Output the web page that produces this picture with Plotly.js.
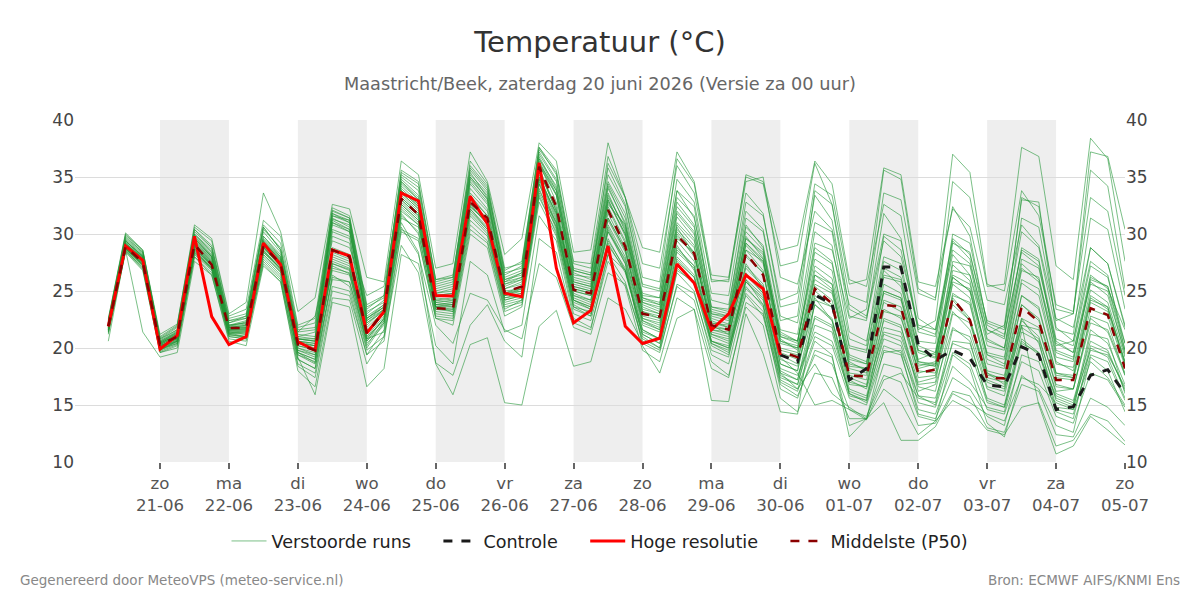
<!DOCTYPE html>
<html><head><meta charset="utf-8">
<script src="https://cdn.plot.ly/plotly-3.0.1.min.js"></script>
<style>html,body{margin:0;padding:0;background:#fff}#chart{width:1200px;height:600px}</style>
</head><body><div id="chart"></div>
<script>
// ---- time base: 6-hourly steps starting 20-06-2026 06:00 ----
const startUTC = Date.UTC(2026, 5, 20, 6, 0);
const stepHours = 6;
const nSteps = 60;

const dayTicks = ['2026-06-21','2026-06-22','2026-06-23','2026-06-24','2026-06-25','2026-06-26','2026-06-27','2026-06-28','2026-06-29','2026-06-30','2026-07-01','2026-07-02','2026-07-03','2026-07-04','2026-07-05'];
const dayLabels = ['zo<br>21-06','ma<br>22-06','di<br>23-06','wo<br>24-06','do<br>25-06','vr<br>26-06','za<br>27-06','zo<br>28-06','ma<br>29-06','di<br>30-06','wo<br>01-07','do<br>02-07','vr<br>03-07','za<br>04-07','zo<br>05-07'];
const shadedStart = ['2026-06-21','2026-06-23','2026-06-25','2026-06-27','2026-06-29','2026-07-01','2026-07-03'];
const shadedEnd   = ['2026-06-22','2026-06-24','2026-06-26','2026-06-28','2026-06-30','2026-07-02','2026-07-04'];

// ---- perturbed members (Verstoorde runs) ----
const m01 = [22.0,29.2,28.0, 20.5,21.3,29.8,28.2, 21.9,22.3,29.6,28.0, 20.8,20.6,31.4,30.6, 22.4,23.6,34.2,32.8, 24.6,24.8,34.8,33.1, 25.6,26.0,36.4,33.5, 25.8,25.4,33.6,30.2, 23.8,23.2,31.5,29.6, 22.6,22.1,29.8,27.9, 20.6,20.0,27.2,26.1, 19.2,18.6,26.8,25.4, 19.6,19.1,27.3,25.9, 19.0,18.4,25.7,24.6, 18.6,18.3,25.1,24.0, 19.2];
const m02 = [21.4,28.7,27.4, 19.8,20.6,28.6,27.0, 21.2,21.0,28.2,26.6, 19.6,18.7,27.2,26.5, 20.4,22.0,31.6,30.2, 22.8,22.6,30.8,29.4, 23.4,24.2,33.8,31.0, 23.6,23.2,29.0,26.8, 21.2,20.4,27.0,25.6, 20.2,19.4,25.2,23.8, 17.4,16.8,22.6,21.8, 16.0,15.4,21.2,20.6, 15.8,15.6,20.4,19.8, 15.2,14.8,20.8,19.6, 14.6,14.2,19.4,18.8, 15.4];
const m03 = [22.6,30.1,28.6, 21.2,22.1,30.6,29.4, 22.8,23.4,31.2,29.8, 22.0,22.6,32.3,31.6, 23.8,24.6,35.2,34.1, 26.0,26.4,35.6,33.8, 26.8,27.6,37.6,35.2, 27.4,27.0,35.8,32.6, 25.6,25.2,34.8,32.8, 24.8,24.6,33.6,31.8, 23.6,24.0,33.4,31.2, 22.8,22.4,31.8,29.6, 21.4,21.0,28.2,26.4, 20.2,19.8,27.0,25.8, 19.6,19.0,26.2,25.4, 20.4];
const m04 = [21.8,28.9,27.6, 20.2,20.8,29.0,27.4, 21.6,21.6,28.8,27.3, 20.2,19.9,28.4,27.8, 21.0,22.8,33.0,31.6, 23.8,23.6,32.6,31.0, 24.6,25.0,35.2,31.6, 24.8,24.2,31.4,28.6, 22.6,22.2,29.4,27.6, 21.4,21.0,27.2,25.6, 19.0,18.4,23.8,22.6, 16.8,16.6,22.4,21.8, 17.0,17.4,23.2,21.6, 16.6,16.2,21.8,20.8, 16.2,16.4,22.6,21.4, 17.6];
const m05 = [22.2,29.5,28.2, 20.6,21.5,30.0,28.6, 22.2,22.8,30.4,28.8, 21.4,21.6,31.8,31.0, 23.0,24.2,34.8,33.4, 25.2,25.6,35.2,33.6, 26.2,26.8,37.0,34.6, 26.6,26.0,34.2,30.8, 24.0,23.4,30.6,28.2, 22.0,21.2,27.4,25.2, 19.4,18.6,26.4,25.6, 18.8,18.0,24.8,24.2, 18.4,18.8,26.2,25.0, 18.6,18.2,24.6,23.4, 17.8,17.4,24.2,23.6, 18.8];
const m06 = [21.2,28.4,26.8, 19.6,20.2,28.0,26.4, 20.8,20.6,27.6,26.0, 19.0,18.2,26.4,25.4, 19.8,21.0,29.0,26.6, 18.6,15.9,20.3,20.9, 15.2,15.0,21.9,23.3, 18.4,18.8,24.4,23.4, 20.4,19.6,25.6,24.8, 19.8,19.2,26.0,24.6, 17.8,17.2,23.8,22.4, 16.4,15.8,21.8,21.4, 16.6,16.2,23.0,22.2, 17.0,16.4,22.4,21.0, 16.0,15.4,20.6,19.8, 16.2];
const m07 = [21.6,28.8,27.2, 20.0,20.6,28.4,27.0, 21.4,21.2,28.4,27.0, 19.8,19.4,27.6,27.0, 20.8,21.4,31.0,28.4, 18.7,17.6,22.0,23.8, 20.6,19.2,29.6,28.4, 22.2,21.6,28.2,26.8, 21.4,20.8,28.6,27.2, 20.6,20.2,25.8,24.2, 18.2,17.6,21.4,20.6, 16.2,15.6,20.8,20.2, 15.2,14.8,19.6,18.6, 14.6,14.2,18.8,18.0, 14.0,13.4,17.8,17.2, 14.8];
const m08 = [22.4,29.8,28.4, 20.8,21.8,30.4,28.8, 22.6,23.0,30.8,29.2, 21.8,22.2,32.1,31.4, 23.4,24.6,35.4,34.4, 25.8,26.2,36.0,34.2, 26.4,27.2,37.4,35.4, 27.0,26.6,34.6,31.8, 24.8,24.4,33.2,31.6, 23.6,23.2,31.4,30.2, 22.4,22.8,33.8,32.6, 24.6,24.0,35.6,34.8, 25.2,24.4,32.4,29.8, 22.0,21.2,28.4,27.2, 20.4,19.6,25.8,24.6, 19.6];
const m09 = [22.0,29.4,28.0, 20.4,21.2,29.6,28.0, 21.8,22.0,29.2,27.8, 20.6,20.4,31.2,30.4, 22.8,23.8,34.0,32.6, 24.8,25.0,34.6,32.8, 25.8,26.6,36.8,34.0, 26.2,25.8,33.4,30.4, 23.6,23.0,31.0,29.4, 23.0,22.8,30.6,29.0, 21.6,21.2,30.2,29.0, 20.8,20.2,29.8,28.6, 21.6,22.4,34.6,33.2, 25.4,25.6,37.6,36.8, 27.2,26.0,38.4,36.6, 27.6];
const m10 = [22.3,29.6,28.3, 20.7,21.6,30.2,28.8, 22.4,22.6,30.6,28.6, 21.2,21.0,31.6,31.2, 22.6,23.6,34.6,33.0, 25.0,25.4,35.0,33.4, 26.0,26.4,36.6,34.2, 26.4,26.2,36.2,33.2, 26.2,25.8,36.6,34.4, 25.8,26.0,35.2,34.6, 28.6,29.0,36.4,34.4, 26.0,25.4,32.6,31.6, 22.6,21.6,29.6,28.2, 22.4,21.8,30.2,28.8, 21.6,21.2,31.4,30.4, 23.4];
const m11 = [21.6,28.8,27.3, 20.0,20.7,28.8,27.2, 21.3,21.4,28.6,27.0, 20.0,19.4,26.8,26.4, 20.2,22.4,32.4,31.0, 23.4,23.4,32.2,30.6, 24.2,24.6,34.6,30.8, 24.2,23.6,30.6,27.6, 22.0,21.4,28.0,26.4, 20.6,20.0,24.6,22.8, 16.8,15.8,19.4,18.6, 14.6,14.0,17.6,17.0, 13.2,13.4,16.2,15.8, 13.0,12.6,16.8,16.2, 12.4,12.2,15.6,14.8, 13.2];
const m12 = [21.5,28.6,27.0, 19.9,20.4,28.2,26.8, 21.0,20.8,27.8,26.2, 18.6,17.8,25.4,25.0, 19.4,20.6,30.2,29.4, 22.6,22.0,30.0,28.8, 22.8,23.6,32.8,29.8, 23.0,22.4,28.2,25.8, 20.6,19.8,25.4,24.2, 18.8,17.6,23.6,22.0, 15.6,14.4,17.8,17.4, 13.8,13.8,16.4,15.2, 12.4,13.6,15.4,14.6, 12.8,12.4,14.8,15.2, 11.4,11.9,14.2,13.6, 11.8];
const m13 = [21.9,29.0,27.8, 20.3,21.0,29.1,27.6, 21.7,21.8,29.0,27.4, 20.4,20.0,29.8,29.2, 21.8,23.2,33.4,32.0, 24.2,24.0,33.0,31.2, 25.0,25.2,35.6,32.0, 25.0,24.6,31.8,28.8, 22.8,22.4,29.0,26.8, 21.0,20.4,26.0,23.8, 17.8,16.4,18.6,16.0, 14.8,13.8,15.2,11.9, 11.9,13.1,16.0,15.2, 14.2,13.6,17.4,16.8, 15.2,14.6,18.8,17.4, 15.0];
const m14 = [22.1,29.2,27.6, 20.4,21.2,29.4,27.8, 21.8,21.9,29.4,27.6, 20.6,20.2,30.2,29.6, 22.0,23.4,33.8,32.4, 24.4,24.2,33.4,31.6, 25.2,25.6,35.4,32.4, 25.2,24.8,32.4,29.4, 23.2,22.8,30.4,28.8, 22.4,21.8,28.6,26.8, 19.2,17.8,15.0,15.4, 14.6,13.7,17.2,17.8, 15.6,15.2,21.6,21.0, 16.4,15.8,22.0,21.6, 16.8,16.4,22.8,22.2, 17.6];
const m15 = [22.2,29.3,28.1, 20.6,21.4,29.9,28.4, 22.0,22.4,29.8,28.2, 21.0,20.8,31.0,30.2, 22.6,23.8,33.6,32.2, 24.6,24.6,34.0,32.2, 25.4,26.0,36.0,33.4, 25.6,25.2,33.0,30.0, 24.2,23.8,32.4,30.6, 23.2,22.8,30.2,28.6, 21.0,20.4,28.8,27.6, 20.2,19.8,27.6,26.8, 20.6,20.4,30.0,29.2, 22.2,21.6,33.2,32.4, 23.4,23.0,35.6,34.2, 25.2];
const m16 = [21.7,28.7,27.5, 20.1,20.9,28.9,27.3, 21.5,21.5,28.9,27.2, 20.2,19.8,27.0,26.6, 21.2,23.0,32.8,31.4, 23.6,23.8,32.4,31.0, 24.8,25.0,34.8,31.8, 25.4,25.0,32.6,30.8, 24.6,24.4,33.8,32.4, 23.6,23.4,32.8,31.6, 24.2,24.8,34.4,33.4, 25.6,26.0,35.8,35.2, 25.8,25.4,32.2,30.6, 24.2,23.8,30.8,29.0, 22.6,21.8,28.8,27.4, 21.8];
const m17 = [21.3,28.5,26.9, 19.6,20.0,28.0,26.6, 21.0,20.8,27.4,25.8, 18.4,17.4,25.0,24.6, 19.4,21.6,31.4,30.6, 23.2,23.0,31.6,30.0, 23.8,24.2,33.6,30.6, 24.0,23.4,30.2,27.8, 22.4,21.6,29.6,28.4, 21.8,21.6,29.2,27.8, 20.6,20.2,24.4,22.4, 17.2,16.4,21.4,21.0, 16.8,17.0,24.6,24.0, 17.8,16.8,22.6,20.4, 15.4,14.8,20.2,19.6, 16.4];
const m18 = [20.6,28.6,21.4, 19.2,19.6,27.6,26.4, 20.6,20.2,27.2,25.8, 18.0,16.6,24.4,24.2, 18.6,21.0,30.4,29.6, 22.6,22.4,30.4,29.2, 23.2,23.8,33.2,30.2, 23.4,22.8,29.4,27.0, 21.6,20.8,27.8,26.2, 20.4,19.6,26.4,24.8, 18.6,18.0,25.6,24.8, 18.6,18.2,25.0,24.4, 18.8,18.6,25.8,25.2, 19.6,19.2,27.4,26.0, 20.2,20.6,28.8,27.4, 22.0];
const m19 = [22.5,30.0,28.5, 21.0,22.0,30.8,29.6, 23.0,24.0,33.6,30.2, 23.2,24.4,32.6,32.2, 26.2,25.8,36.4,35.2, 27.0,27.4,37.2,34.6, 28.2,29.6,38.0,36.4, 28.4,28.6,38.0,33.2, 28.8,28.4,37.2,34.6, 26.4,26.2,35.0,34.4, 27.2,27.6,36.2,32.6, 23.4,22.6,29.4,28.0, 22.0,21.6,28.6,27.4, 21.6,21.0,28.6,27.6, 20.8,20.2,27.2,26.2, 20.4];
const m20 = [22.0,29.1,27.9, 20.4,21.1,29.4,27.9, 21.9,22.1,29.3,27.7, 21.4,22.8,29.4,28.8, 24.6,25.4,34.6,33.2, 25.6,26.0,35.4,33.2, 26.0,26.6,36.2,33.8, 26.8,26.4,35.2,32.4, 25.4,25.0,33.8,31.4, 24.2,23.8,32.0,30.4, 22.8,22.2,31.0,30.2, 21.4,20.6,28.0,27.4, 20.2,19.6,26.2,25.0, 19.4,18.6,26.0,25.2, 18.8,18.0,24.6,23.6, 18.6];
const m21 = [21.8,28.8,27.6, 20.2,20.8,29.0,27.4, 21.6,21.6,28.8,27.2, 19.2,15.9,24.0,23.6, 16.6,18.2,28.2,27.4, 20.2,18.6,27.6,26.4, 21.4,22.0,31.6,29.4, 22.6,21.8,27.6,25.4, 19.8,18.8,24.4,23.4, 18.2,17.4,24.0,23.0, 17.2,16.4,21.0,20.2, 15.6,15.0,19.6,19.8, 15.8,15.0,20.6,20.4, 15.6,15.0,21.4,20.6, 14.8,14.6,21.2,20.8, 16.0];
const m22 = [21.9,29.1,27.9, 20.3,21.1,29.2,27.6, 21.7,21.7,29.1,27.6, 20.6,20.4,31.6,31.0, 22.2,23.2,33.6,32.2, 24.0,24.2,33.2,31.6, 24.8,25.4,35.8,32.2, 25.0,24.6,32.2,29.2, 23.0,22.6,30.2,28.4, 22.0,21.6,28.2,26.6, 19.8,19.4,25.4,24.2, 17.8,17.6,24.2,23.6, 17.8,18.2,24.4,22.6, 17.6,17.4,23.8,22.4, 17.4,17.2,23.4,22.8, 18.4];
const m23 = [21.7,28.9,27.4, 20.1,20.6,28.6,27.1, 21.4,21.3,28.6,26.9, 19.4,18.6,26.2,25.8, 20.6,22.6,30.6,28.2, 22.0,20.4,24.8,24.2, 21.6,20.8,27.4,26.2, 21.8,21.2,26.6,25.6, 20.8,20.0,26.8,25.8, 21.2,20.8,28.6,27.6, 21.4,20.6,27.8,26.8, 19.4,18.8,26.4,26.0, 19.8,19.2,27.6,27.2, 20.6,20.0,28.8,27.8, 19.8,19.2,25.6,25.0, 19.4];
const m24 = [22.3,29.7,28.4, 20.8,21.6,30.0,28.4, 22.2,22.6,30.2,28.4, 21.0,21.4,31.8,31.2, 23.2,24.0,35.0,33.8, 25.4,25.8,35.8,34.0, 26.6,27.0,37.2,34.8, 26.8,26.4,34.4,31.4, 24.4,24.0,32.8,30.8, 23.4,23.0,30.8,28.8, 20.8,19.8,26.0,25.0, 19.0,18.6,25.6,24.8, 19.0,19.6,29.2,28.4, 21.6,20.8,31.4,30.6, 22.4,23.0,37.2,36.8, 30.4];
const m25 = [21.6,28.7,27.3, 19.9,20.5,28.5,27.0, 21.3,21.0,28.4,26.8, 19.6,19.0,27.8,27.2, 20.8,22.6,32.2,30.8, 23.6,23.4,32.0,30.4, 24.4,24.6,34.4,31.0, 24.4,23.8,30.8,28.0, 22.2,21.6,28.4,27.0, 21.6,21.2,27.0,25.4, 18.6,18.0,24.6,23.6, 17.4,16.8,23.4,22.6, 18.2,18.6,26.8,26.4, 21.2,22.0,33.0,32.8, 21.8,20.6,27.6,26.4, 19.8];
const m26 = [21.8,28.9,27.7, 20.2,20.9,29.1,27.5, 21.6,21.7,29.0,27.5, 20.4,20.2,30.4,29.8, 21.6,23.0,33.2,31.8, 24.0,23.8,32.8,31.2, 24.8,25.2,35.0,31.8, 24.6,24.0,31.2,28.4, 22.6,22.0,29.8,28.2, 21.6,21.4,28.0,26.6, 19.6,19.0,25.0,23.8, 17.6,17.2,24.0,23.2, 18.0,17.8,24.2,22.4, 17.2,16.6,22.0,15.0, 10.7,11.4,14.0,12.8, 11.5];
const m27 = [21.4,28.5,27.1, 19.7,20.3,28.3,26.9, 21.2,20.9,28.0,26.4, 19.0,18.2,26.0,25.8, 20.0,22.2,32.0,30.8, 23.4,23.2,31.8,30.2, 24.0,24.4,34.0,30.4, 23.8,23.0,29.6,26.8, 21.0,20.0,26.6,25.0, 19.4,18.6,24.8,23.2, 16.4,15.6,19.8,19.2, 13.2,13.8,18.6,18.2, 14.0,13.6,19.4,18.2, 13.4,12.2,17.6,16.4, 13.2,12.6,19.2,18.0, 14.4];
const m28 = [22.1,29.4,28.1, 20.5,21.4,29.7,28.1, 22.0,22.2,29.5,27.9, 20.8,20.8,31.3,30.8, 22.6,23.6,34.4,33.0, 24.8,25.2,35.0,33.0, 25.8,26.2,36.6,33.8, 26.0,25.6,34.0,31.0, 24.4,23.8,32.0,30.2, 23.0,22.6,29.6,28.4, 21.2,20.6,29.2,28.6, 22.6,23.4,33.6,33.0, 24.8,24.2,37.0,35.4, 25.6,25.0,33.8,31.6, 23.8,23.2,33.2,32.0, 24.6];
const m29 = [22.0,29.0,27.8, 20.3,21.0,29.3,27.7, 21.8,21.8,29.1,27.5, 20.4,20.2,28.0,27.4, 21.4,23.2,33.2,31.8, 23.8,24.0,32.8,31.4, 24.6,25.2,35.6,32.0, 25.2,24.8,32.8,30.0, 23.4,23.0,30.8,29.0, 22.2,21.8,29.2,27.6, 20.4,20.0,26.4,25.2, 18.4,18.2,25.0,24.4, 18.6,18.4,23.8,22.4, 17.4,17.0,22.6,21.8, 16.6,16.4,22.2,21.6, 17.8];
const m30 = [21.7,28.8,27.5, 20.1,20.7,28.7,27.3, 21.5,21.4,28.8,27.1, 19.6,19.0,27.4,26.9, 21.0,22.4,32.6,31.2, 23.6,23.6,32.4,31.0, 24.6,24.8,34.8,31.2, 24.6,24.2,31.4,28.6, 22.4,21.8,28.8,27.2, 21.2,20.6,26.6,24.8, 18.0,17.2,22.8,22.0, 16.0,15.2,20.2,19.6, 14.2,13.8,17.4,16.4, 14.0,13.2,19.4,18.8, 14.4,13.8,20.0,19.2, 15.6];
const m31 = [22.4,29.9,28.6, 20.9,21.9,30.4,29.0, 22.4,22.8,30.6,28.6, 21.6,21.8,32.0,31.4, 23.6,24.4,35.6,34.6, 26.0,26.2,36.4,34.4, 27.0,27.4,37.6,35.6, 27.6,27.4,36.8,33.2, 27.4,27.0,36.0,33.6, 26.0,25.8,34.6,35.0, 26.2,25.6,32.0,30.4, 23.8,22.8,30.0,29.4, 21.8,21.2,29.4,27.8, 20.8,20.0,27.8,27.0, 20.6,19.6,26.4,25.2, 21.6];
const m32 = [21.6,28.6,27.2, 19.8,20.4,28.4,27.0, 21.1,21.0,28.2,26.7, 19.4,18.8,27.4,26.8, 20.6,22.2,31.8,30.0, 23.0,22.8,31.2,29.8, 23.6,24.0,33.4,30.0, 23.6,22.8,29.2,26.6, 21.2,20.4,27.2,25.8, 20.4,19.8,25.8,24.4, 17.6,16.8,22.0,21.4, 15.8,15.4,22.6,22.0, 16.2,16.8,21.8,20.6, 15.4,14.8,20.6,19.4, 15.8,15.2,19.8,19.4, 16.6];
const m33 = [22.0,29.2,27.9, 20.4,21.2,29.6,28.0, 21.8,22.0,29.4,27.8, 20.8,20.6,31.0,30.4, 22.2,23.4,33.8,32.4, 24.2,24.4,33.6,32.0, 25.2,25.8,36.2,32.8, 25.4,25.0,33.0,29.8, 23.2,22.6,30.0,28.0, 22.2,22.0,29.0,27.4, 20.0,19.6,26.8,25.6, 18.2,17.8,26.2,25.8, 18.8,18.4,25.6,24.4, 18.0,17.6,24.6,23.6, 17.8,17.6,24.4,23.4, 18.8];
const m34 = [21.8,28.9,27.6, 20.2,20.8,28.9,27.3, 21.5,21.5,28.9,27.3, 20.0,19.6,28.8,28.2, 21.4,23.0,33.0,31.6, 23.8,23.8,32.6,30.8, 24.4,24.8,35.0,31.4, 24.2,23.4,30.4,27.4, 20.2,17.8,22.6,23.4, 15.4,15.3,23.0,19.5, 14.4,14.2,24.2,23.6, 17.0,16.6,23.2,22.8, 17.4,17.6,24.8,23.8, 17.8,17.2,23.8,22.6, 17.6,17.4,24.0,23.2, 18.6];
const m35 = [22.2,29.4,28.0, 20.5,21.3,29.6,28.0, 22.0,22.2,29.8,28.0, 20.8,20.6,30.8,30.2, 22.4,23.4,33.8,32.6, 24.6,24.8,34.4,32.6, 25.6,26.2,36.2,33.4, 25.8,25.4,33.2,30.6, 24.0,23.6,31.8,30.0, 22.8,22.4,29.6,28.2, 21.0,20.6,28.4,27.4, 20.0,19.6,27.0,26.2, 19.8,19.4,26.4,25.6, 19.4,19.0,26.8,26.2, 19.2,18.8,26.0,25.4, 19.8];
const m36 = [21.5,28.7,27.3, 19.9,20.6,28.7,27.2, 21.3,21.2,28.5,26.9, 19.8,19.2,28.2,27.6, 20.8,22.6,32.6,31.2, 23.6,23.2,32.2,30.4, 24.2,24.6,34.4,30.6, 24.2,23.6,30.2,27.4, 21.6,20.8,27.6,26.2, 20.6,20.0,25.4,23.6, 17.0,16.2,20.6,19.4, 12.2,13.8,19.8,19.4, 14.6,14.2,18.4,17.0, 14.8,14.4,20.4,19.6, 15.6,15.0,21.6,20.4, 16.8];
const members = [m01,m02,m03,m04,m05,m06,m07,m08,m09,m10,m11,m12,m13,m14,m15,m16,m17,m18,m19,m20,m21,m22,m23,m24,m25,m26,m27,m28,m29,m30,m31,m32,m33,m34,m35,m36];

// ---- high resolution run (ends 30-06 00:00) ----
const hres = [21.9,28.95,27.7, 19.9,21.1,29.8,22.75, 20.3,21.0,29.2,27.3, 20.55,19.8,28.6,28.07, 21.3,23.2,33.6,32.9, 24.6,24.56,33.3,30.9, 24.8,24.5,36.25,27.0, 22.2,23.3,28.95,21.9, 20.4,20.85,27.37,25.7, 21.6,23.0,26.4,25.2, 19.4];

// ---- control run (visible from 30-06 00:00) ----
const controlStartIndex = 39;
const control = [19.4,18.8,24.65,23.9, 17.2,18.2,27.1,27.1, 20.3,18.95,19.8,19.1, 16.75,16.6,20.1,19.4, 14.6,14.85,17.6,18.1, 16.0];

// ---- median P50 ----
const p50 = [21.9,28.9,27.5, 20.3,21.0,29.1,27.3, 21.75,21.75,28.9,27.4, 20.3,19.8,28.6,28.0, 21.3,23.2,33.1,31.7, 23.5,23.4,32.8,31.4, 24.9,25.4,35.9,32.4, 25.1,24.8,32.1,28.9, 23.0,22.75,29.9,28.3, 22.0,21.6,28.3,26.4, 19.7,19.2,25.2,23.9, 17.6,17.5,23.8,23.6, 17.8,18.1,24.35,22.45, 17.35,17.35,23.6,22.3, 17.2,17.2,23.5,22.9, 18.2];

const legendNames = ['Verstoorde runs', 'Controle', 'Hoge resolutie', 'Middelste (P50)'];

// ---- build time axis ----
function fmt(ms){ return new Date(ms).toISOString().slice(0,16).replace('T',' '); }
const times = [];
for (let k = 0; k < nSteps; k++) times.push(fmt(startUTC + k*stepHours*3600e3));

const pad = '\u00a0\u00a0\u00a0\u00a0';
const traces = [];
members.forEach((m, idx) => {
  traces.push({
    x: times, y: m, type: 'scatter', mode: 'lines',
    name: legendNames[0] + pad, legendgroup: 'runs', showlegend: idx === 0,
    line: {color: 'rgba(35,150,55,0.6)', width: 1}, hoverinfo: 'skip'
  });
});
traces.push({
  x: times.slice(controlStartIndex), y: control, type: 'scatter', mode: 'lines',
  name: legendNames[1] + pad, line: {color: '#1a1a1a', width: 3, dash: 'dash'}
});
traces.push({
  x: times.slice(0, hres.length), y: hres, type: 'scatter', mode: 'lines',
  name: legendNames[2] + pad, line: {color: '#ff0000', width: 3}
});
traces.push({
  x: times, y: p50, type: 'scatter', mode: 'lines',
  name: legendNames[3], line: {color: '#8b0000', width: 2.5, dash: 'dash'}
});
traces.push({
  x: [times[0]], y: [null], yaxis: 'y2', type: 'scatter', mode: 'lines',
  showlegend: false, hoverinfo: 'skip'
});

const shapes = shadedStart.map((s, i) => ({
  type: 'rect', xref: 'x', yref: 'paper', x0: s + ' 00:00', x1: shadedEnd[i] + ' 00:00', y0: 0, y1: 1,
  fillcolor: '#eeeeee', line: {width: 0}, layer: 'below'
}));

const plotTop = 120, plotBottom = 462, plotH = plotBottom - plotTop;
const py = (pix) => (plotBottom - pix) / plotH;

const layout = {
  width: 1200, height: 600,
  paper_bgcolor: '#ffffff', plot_bgcolor: '#ffffff',
  margin: {l: 75, r: 75, t: plotTop, b: 600 - plotBottom},
  font: {family: 'DejaVu Sans, sans-serif', color: '#444', size: 16},
  title: {text: 'Temperatuur (°C)', font: {size: 29, color: '#333'}, x: 0.5, xanchor: 'center', yref: 'container', y: 1 - 42/600, yanchor: 'middle'},
  xaxis: {
    type: 'date', range: ['2026-06-19 18:24', '2026-07-05 00:00'],
    tickmode: 'array', tickvals: dayTicks.map(d => d + ' 00:00'), ticktext: dayLabels,
    ticks: 'outside', ticklen: 6, tickwidth: 2, tickcolor: '#666',
    showgrid: false, zeroline: false, showline: false,
    tickfont: {size: 16.6, color: '#555'}
  },
  yaxis: {
    range: [10, 40], tick0: 10, dtick: 5, gridcolor: '#dcdcdc', gridwidth: 1,
    zeroline: false, showline: false, tickfont: {size: 17, color: '#444'}
  },
  yaxis2: {
    range: [10, 40], tick0: 10, dtick: 5, overlaying: 'y', side: 'right',
    showgrid: false, zeroline: false, showline: false, tickfont: {size: 17, color: '#444'}
  },
  legend: {orientation: 'h', x: 0.5, xanchor: 'center', y: py(541), yanchor: 'middle', font: {size: 17.6, color: '#222'}, itemwidth: 35},
  shapes: shapes,
  annotations: [
    {text: 'Maastricht/Beek, zaterdag 20 juni 2026 (Versie za 00 uur)', xref: 'paper', yref: 'paper', x: 0.5, y: py(84), xanchor: 'center', yanchor: 'middle', showarrow: false, font: {size: 17.7, color: '#666'}},
    {text: 'Gegenereerd door MeteoVPS (meteo-service.nl)', xref: 'paper', yref: 'paper', x: (18-75)/1050, y: py(580), xanchor: 'left', yanchor: 'middle', showarrow: false, font: {size: 13.5, color: '#888'}},
    {text: 'Bron: ECMWF AIFS/KNMI Ens', xref: 'paper', yref: 'paper', x: (1182-75)/1050, y: py(580), xanchor: 'right', yanchor: 'middle', showarrow: false, font: {size: 13.5, color: '#888'}}
  ],
  hovermode: false
};

Plotly.newPlot('chart', traces, layout, {displayModeBar: false, staticPlot: true});
</script>
</body></html>
